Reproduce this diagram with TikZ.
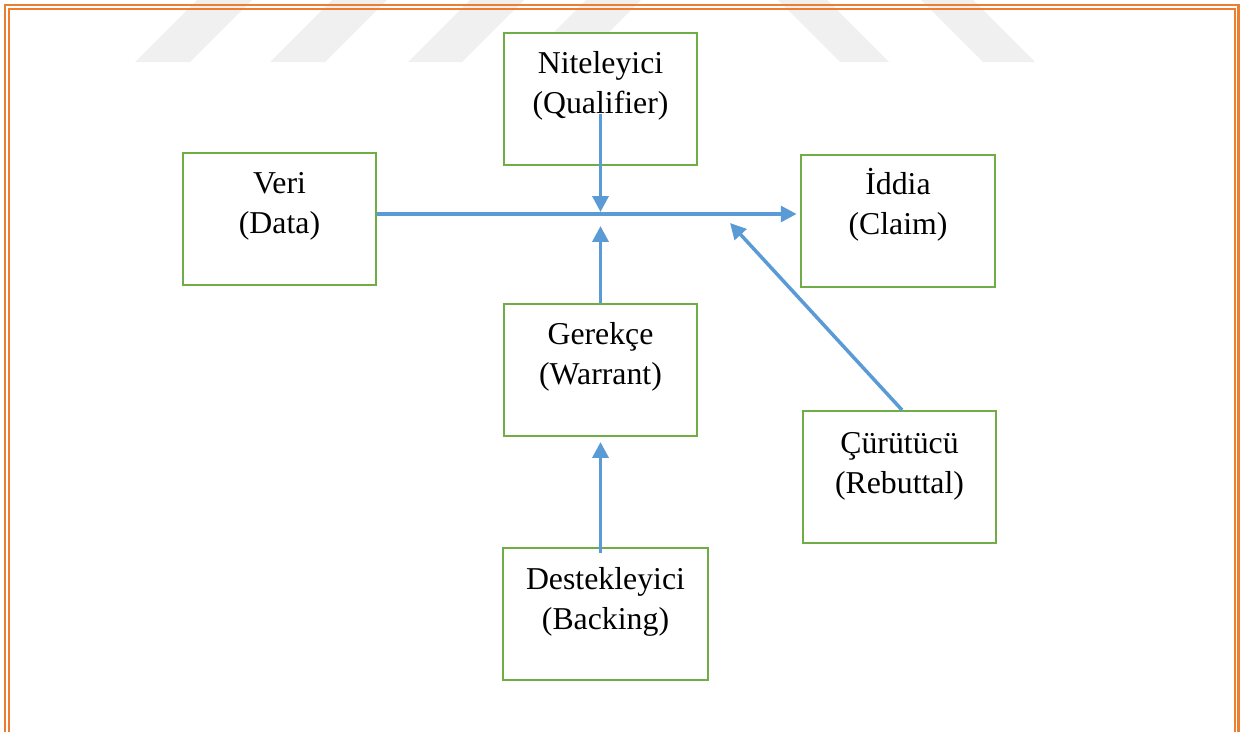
\documentclass[tikz,border=0pt]{standalone}
\usepackage{fontspec}
\setmainfont{Liberation Serif}
\usetikzlibrary{arrows.meta,calc}
\definecolor{boxgreen}{HTML}{70AD47}
\definecolor{linkblue}{HTML}{5B9BD5}
\definecolor{frameorange}{HTML}{ED7D31}
\definecolor{markgray}{HTML}{F0F0F0}
\begin{document}
\begin{tikzpicture}[x=0.02cm,y=-0.02cm,
  box/.style={draw=boxgreen,line width=1.6pt,fill=white,inner sep=0pt,
    minimum height=2.64cm,minimum width=#1},
  box/.default=3.86cm,
  txt/.style={anchor=base,align=center,inner sep=0pt,
    font=\fontsize{18.1}{22.6}\selectfont},
  link/.style={draw=linkblue,line width=2pt,
    -{Triangle[length=9pt,width=9pt]}}]
\useasboundingbox (0,0) rectangle (1254,731);
\clip (0,0) rectangle (1254,731);

% light watermark bands along the top edge
\fill[markgray] (135,62) -- (190,62) -- (252,0) -- (197,0) -- cycle;
\fill[markgray] (270,62) -- (325,62) -- (387,0) -- (332,0) -- cycle;
\fill[markgray] (408,62) -- (462,62) -- (524,0) -- (470,0) -- cycle;
\fill[markgray] (524,62) -- (579,62) -- (641,0) -- (586,0) -- cycle;
\fill[markgray] (840,62) -- (889,62) -- (827,0) -- (778,0) -- cycle;
\fill[markgray] (983,62) -- (1035,62) -- (973,0) -- (921,0) -- cycle;

% double page frame
\draw[frameorange,line width=1.7pt] (5,745) -- (5,5) -- (1238.5,5) -- (1238.5,745);
\draw[frameorange,line width=1.2pt] (8.8,745) -- (8.8,8.8) -- (1235.2,8.8) -- (1235.2,745);

% Toulmin model boxes
\node[box] (data) at (279.5,219) {};
\node[box] (qual) at (600.5,99) {};
\node[box=3.88cm] (claim) at (898,221) {};
\node[box] (warrant) at (600.5,370) {};
\node[box] (rebut) at (899.5,477) {};
\node[box=4.1cm] (backing) at (605.5,614) {};

% two-line labels, placed by the baseline of their last line
\node[txt] (datat) at ($(data.north)+(0,82)$) {Veri\\(Data)};
\node[txt] (qualt) at ($(qual.north)+(0,82)$) {Niteleyici\\(Qualifier)};
\node[txt] (claimt) at ($(claim.north)+(0,81)$) {İddia\\(Claim)};
\node[txt] (warrantt) at ($(warrant.north)+(0,82)$) {Gerekçe\\(Warrant)};
\node[txt] (rebutt) at ($(rebut.north)+(0,84)$) {Çürütücü\\(Rebuttal)};
\node[txt] (backingt) at ($(backing.north)+(0,83)$) {Destekleyici\\(Backing)};

% connectors
\coordinate (hub) at (600.5,214);
\coordinate (qtail) at (600.5,114);
\coordinate (qtip) at (600.5,212);
\coordinate (wtip) at (600.5,226);
\coordinate (btail) at (600.5,553);
\coordinate (btip) at (600.5,442);
\coordinate (rtail) at (902,410);
\coordinate (rtip) at (730,223);

\draw[link] (data.east |- hub) -- ($(claim.west |- hub)+(-3,0)$);
\draw[link] (qtail) -- (qtip);
\draw[link] (warrant.north) -- (wtip);
\draw[link] (btail) -- (btip);
\draw[link] (rtail) -- (rtip);
\end{tikzpicture}
\end{document}
